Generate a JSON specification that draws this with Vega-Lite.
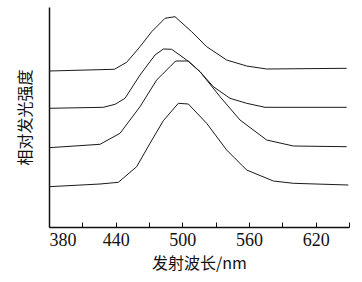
{
  "$schema": "https://vega.github.io/schema/vega-lite/v6.json",
  "width": 300,
  "height": 220,
  "autosize": {"type": "none"},
  "padding": {"left": 49, "top": 7, "right": 13, "bottom": 55},
  "background": "white",
  "config": {"view": {"stroke": null}},
  "data": {"values": [
    {"s": 1, "wl": 380, "v": 156},
    {"s": 1, "wl": 438.8, "v": 157.7},
    {"s": 1, "wl": 449.9, "v": 164.7},
    {"s": 1, "wl": 461.9, "v": 180.3},
    {"s": 1, "wl": 472.4, "v": 195.3},
    {"s": 1, "wl": 484.4, "v": 208.7},
    {"s": 1, "wl": 493.4, "v": 210.3},
    {"s": 1, "wl": 508.4, "v": 195.3},
    {"s": 1, "wl": 521.9, "v": 180.3},
    {"s": 1, "wl": 539.9, "v": 167},
    {"s": 1, "wl": 557.9, "v": 161},
    {"s": 1, "wl": 575.9, "v": 158},
    {"s": 1, "wl": 647.9, "v": 158.7},
    {"s": 2, "wl": 380, "v": 118.7},
    {"s": 2, "wl": 428.9, "v": 119.7},
    {"s": 2, "wl": 439.4, "v": 122.7},
    {"s": 2, "wl": 448.4, "v": 128.7},
    {"s": 2, "wl": 461.9, "v": 152},
    {"s": 2, "wl": 475.4, "v": 172},
    {"s": 2, "wl": 482.9, "v": 178},
    {"s": 2, "wl": 490.4, "v": 177.7},
    {"s": 2, "wl": 503.9, "v": 167},
    {"s": 2, "wl": 515.9, "v": 155.3},
    {"s": 2, "wl": 527.9, "v": 140.3},
    {"s": 2, "wl": 542.9, "v": 128.7},
    {"s": 2, "wl": 557.9, "v": 123.7},
    {"s": 2, "wl": 574.4, "v": 119.7},
    {"s": 2, "wl": 647.9, "v": 119.7},
    {"s": 3, "wl": 380, "v": 79.3},
    {"s": 3, "wl": 425.9, "v": 82.7},
    {"s": 3, "wl": 443.9, "v": 93.7},
    {"s": 3, "wl": 461.9, "v": 120.3},
    {"s": 3, "wl": 476.9, "v": 147},
    {"s": 3, "wl": 494, "v": 166},
    {"s": 3, "wl": 505.4, "v": 166},
    {"s": 3, "wl": 515.9, "v": 155.3},
    {"s": 3, "wl": 533.9, "v": 130.3},
    {"s": 3, "wl": 551.9, "v": 107},
    {"s": 3, "wl": 575.9, "v": 87},
    {"s": 3, "wl": 599.9, "v": 81},
    {"s": 3, "wl": 647.9, "v": 80.3},
    {"s": 4, "wl": 380, "v": 40.3},
    {"s": 4, "wl": 425.9, "v": 43},
    {"s": 4, "wl": 442.4, "v": 44.7},
    {"s": 4, "wl": 458.9, "v": 60.3},
    {"s": 4, "wl": 470.9, "v": 83.7},
    {"s": 4, "wl": 482.9, "v": 106.3},
    {"s": 4, "wl": 496.4, "v": 123.7},
    {"s": 4, "wl": 505.4, "v": 123},
    {"s": 4, "wl": 521.9, "v": 103.7},
    {"s": 4, "wl": 539.9, "v": 77},
    {"s": 4, "wl": 557.9, "v": 57},
    {"s": 4, "wl": 581.9, "v": 46},
    {"s": 4, "wl": 599.9, "v": 43.7},
    {"s": 4, "wl": 649.4, "v": 42}
  ]},
  "mark": {"type": "line", "color": "#1a1a1a", "strokeWidth": 1},
  "encoding": {
    "x": {
      "field": "wl", "type": "quantitative",
      "scale": {"domain": [380, 650], "nice": false, "zero": false},
      "axis": {
        "title": "发射波长/nm",
        "titleFont": "Noto Sans CJK SC",
        "titleFontSize": 16,
        "titleFontWeight": "normal",
        "titleColor": "#111",
        "titleBaseline": "middle",
        "titleY": 36,
        "values": [380, 410, 440, 470, 500, 530, 560, 590, 620, 650],
        "labelExpr": "(datum.value - 380) % 60 == 0 ? datum.label : ''",
        "labelFont": "Liberation Serif",
        "labelFontSize": 18,
        "labelColor": "#111",
        "labelBaseline": "middle",
        "labelPadding": 18,
        "tickSize": -5,
        "tickColor": "#111",
        "domainColor": "#111",
        "domainWidth": 1.5,
        "grid": false
      }
    },
    "y": {
      "field": "v", "type": "quantitative",
      "scale": {"domain": [0, 220], "nice": false},
      "axis": {
        "title": "相对发光强度",
        "titleFont": "Noto Sans CJK SC",
        "titleFontSize": 16,
        "titleFontWeight": "normal",
        "titleColor": "#111",
        "titleAngle": -90,
        "titleX": -24,
        "titleY": 110,
        "titleAlign": "center",
        "titleBaseline": "middle",
        "labels": false,
        "ticks": false,
        "grid": false,
        "domainColor": "#111",
        "domainWidth": 1.5
      }
    },
    "detail": {"field": "s", "type": "nominal"}
  }
}
